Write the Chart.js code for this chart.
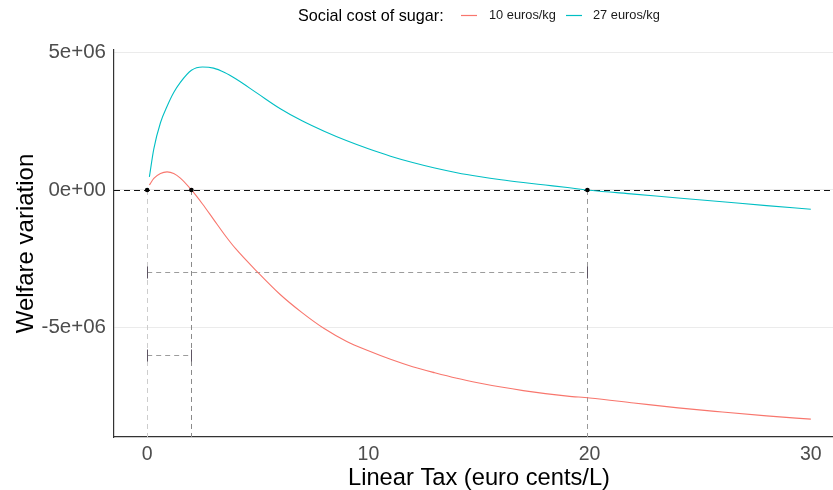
<!DOCTYPE html>
<html>
<head>
<meta charset="utf-8">
<script src="https://cdn.jsdelivr.net/npm/chart.js@4"></script>
<style>
  html, body { margin: 0; padding: 0; background: #fff; overflow: hidden; }
  #wrap { position: relative; width: 833px; height: 490px; overflow: hidden; font-family: "Liberation Sans", Arial, sans-serif; }
  #chart { position: absolute; left: 0; top: 0; }
  .lg { position: absolute; white-space: nowrap; line-height: 1; }
  .lg-title { font-size: 16.2px; color: #000; top: 7px; left: 298px; }
  .lg-label { font-size: 12.8px; color: #1a1a1a; top: 9px; }
</style>
</head>
<body>
<div id="wrap">
  <canvas id="chart" width="848" height="490"></canvas>
  <div class="lg lg-title">Social cost of sugar:</div>
  <div class="lg lg-label" style="left:489px">10 euros/kg</div>
  <div class="lg lg-label" style="left:593px">27 euros/kg</div>
</div>
<script>
// ---------- data ----------
const taxRate = [0.1, 0.3, 0.6, 0.9, 1.2, 1.5, 2, 2.5, 3, 3.5, 4, 5, 6, 7, 8, 9, 10, 11, 12, 13, 14, 15, 16, 17, 18, 19, 20, 22, 24, 26, 28, 30];
const welfare10 = [0.18e6, 0.42e6, 0.60e6, 0.66e6, 0.60e6, 0.43e6, 0.0e6, -0.51e6, -1.07e6, -1.63e6, -2.14e6, -3.00e6, -3.80e6, -4.47e6, -5.05e6, -5.51e6, -5.86e6, -6.17e6, -6.44e6, -6.66e6, -6.86e6, -7.03e6, -7.18e6, -7.31e6, -7.42e6, -7.51e6, -7.58e6, -7.76e6, -7.94e6, -8.09e6, -8.23e6, -8.35e6];
const welfare27 = [0.48e6, 1.50e6, 2.45e6, 3.05e6, 3.55e6, 3.92e6, 4.36e6, 4.48e6, 4.44e6, 4.28e6, 4.05e6, 3.51e6, 2.97e6, 2.52e6, 2.14e6, 1.80e6, 1.50e6, 1.23e6, 1.00e6, 0.80e6, 0.63e6, 0.49e6, 0.37e6, 0.27e6, 0.18e6, 0.09e6, -0.01e6, -0.15e6, -0.29e6, -0.43e6, -0.57e6, -0.70e6];
const seriesLabels = ["10 euros/kg", "27 euros/kg"];
const zeroCrossings = [0, 2, 19.9];
const rangeStart = [0, 0];
const rangeEnd = [19.9, 2];
const rangeLevel = [-3e6, -6e6];
const xTicks = [0, 10, 20, 30];
const yTicks = [-5e6, 0, 5e6];

// ---------- styling ----------
const FONT = "'Liberation Sans', Arial, sans-serif";
Chart.defaults.font.family = FONT;
const seriesColors = ['#F8766D', '#00BFC4'];
const legendKeyX = [461, 566];
const vLineColors = ['#cdcdcd', '#8a8a8a', '#9a9a9a'];

function fmtSci(v) {
  if (v === 0) return '0e+00';
  return v.toExponential(0).replace(/e([+-])(\d)$/, 'e$10$2');
}

const refLines = {
  id: 'refLines',
  beforeDatasetsDraw(chart) {
    const { ctx, chartArea: a, scales: { x, y } } = chart;
    ctx.save();
    ctx.beginPath();
    ctx.rect(a.left, a.top, a.right - a.left, a.bottom - a.top);
    ctx.clip();
    const y0 = y.getPixelForValue(0);
    ctx.lineWidth = 1;
    ctx.setLineDash([5, 4]);
    zeroCrossings.forEach((c, i) => {
      const px = Math.round(x.getPixelForValue(c)) + 0.5;
      ctx.strokeStyle = vLineColors[i];
      ctx.beginPath();
      ctx.moveTo(px, y0);
      ctx.lineTo(px, a.bottom);
      ctx.stroke();
    });
    rangeLevel.forEach((lv, i) => {
      const py = Math.round(y.getPixelForValue(lv)) + 0.5;
      const x1 = x.getPixelForValue(rangeStart[i]);
      const x2 = x.getPixelForValue(rangeEnd[i]);
      ctx.setLineDash([5, 4]);
      ctx.strokeStyle = '#9c9c9c';
      ctx.lineWidth = 1;
      ctx.beginPath();
      ctx.moveTo(x1, py);
      ctx.lineTo(x2, py);
      ctx.stroke();
      ctx.setLineDash([]);
      ctx.strokeStyle = '#5e5563';
      [x1, x2].forEach(xx => {
        const px = Math.round(xx) + 0.5;
        ctx.beginPath();
        ctx.moveTo(px, py - 6);
        ctx.lineTo(px, py + 6);
        ctx.stroke();
      });
    });
    ctx.setLineDash([6, 4]);
    ctx.strokeStyle = '#111';
    ctx.lineWidth = 1.1;
    ctx.beginPath();
    ctx.moveTo(a.left, Math.round(y0) + 0.5);
    ctx.lineTo(a.right, Math.round(y0) + 0.5);
    ctx.stroke();
    ctx.restore();
  },
  afterDraw(chart) {
    const ctx = chart.ctx;
    ctx.save();
    ctx.lineWidth = 1.2;
    legendKeyX.forEach((kx, i) => {
      ctx.strokeStyle = seriesColors[i];
      ctx.beginPath();
      ctx.moveTo(kx, 15.5);
      ctx.lineTo(kx + 16, 15.5);
      ctx.stroke();
    });
    ctx.restore();
  }
};

const ctx = document.getElementById('chart').getContext('2d');
new Chart(ctx, {
  type: 'scatter',
  data: {
    datasets: [
      {
        label: 'zero',
        data: zeroCrossings.map(c => ({ x: c, y: 0 })),
        showLine: false,
        pointRadius: 2.3,
        pointBackgroundColor: '#000',
        pointBorderColor: '#000',
        pointBorderWidth: 0,
        order: 0
      },
      {
        label: seriesLabels[0],
        data: taxRate.map((t, i) => ({ x: t, y: welfare10[i] })),
        showLine: true,
        borderColor: seriesColors[0],
        borderWidth: 1.1,
        pointRadius: 0,
        cubicInterpolationMode: 'monotone',
        order: 1
      },
      {
        label: seriesLabels[1],
        data: taxRate.map((t, i) => ({ x: t, y: welfare27[i] })),
        showLine: true,
        borderColor: seriesColors[1],
        borderWidth: 1.1,
        pointRadius: 0,
        cubicInterpolationMode: 'monotone',
        order: 1
      }
    ]
  },
  options: {
    responsive: false,
    animation: false,
    devicePixelRatio: 1,
    layout: { padding: { top: 50, right: 0, left: 0, bottom: 0 } },
    plugins: { legend: { display: false }, tooltip: { enabled: false } },
    scales: {
      x: {
        type: 'linear',
        min: -1.5,
        max: 31.5,
        afterBuildTicks: s => { s.ticks = xTicks.map(v => ({ value: v })); },
        afterFit: s => { s.height = 53; },
        grid: { display: false, drawTicks: false },
        border: { display: true, color: '#333', width: 1.2 },
        ticks: { font: { size: 19.5 }, color: '#4d4d4d', padding: 6, maxRotation: 0, callback: v => String(v) },
        title: { display: true, text: 'Linear Tax (euro cents/L)', color: '#000', font: { size: 23.7, lineHeight: 1 }, padding: { top: 0, bottom: 0 } }
      },
      y: {
        min: -9.0e6,
        max: 5.1e6,
        afterBuildTicks: s => { s.ticks = yTicks.map(v => ({ value: v })); },
        afterFit: s => { s.width = 114; },
        grid: { color: '#ebebeb', lineWidth: 1, drawTicks: false },
        border: { display: true, color: '#333', width: 1.2 },
        ticks: { font: { size: 20.5 }, color: '#4d4d4d', padding: 8, callback: v => fmtSci(v) },
        title: { display: true, text: 'Welfare variation', color: '#000', font: { size: 24, lineHeight: 1 }, padding: { top: 14, bottom: 0 } }
      }
    }
  },
  plugins: [refLines]
});
</script>
</body>
</html>
